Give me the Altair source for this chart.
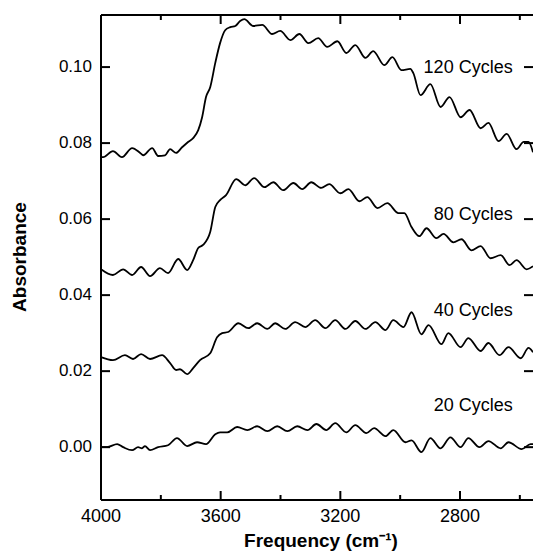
import altair as alt
import pandas as pd

# ---- data ----
f120 = [4000,3993,3960,3930,3896,3869,3859,3829,3809,3786,3769,3749,3729,3709,3692,3675,3662,3649,3635,3618,
        3602,3585,3568,3551,3535,3521,3491,3461,3428,3401,3367,3337,3307,3274,3244,3210,3180,3150,3116,3090,
        3053,3026,2996,2966,2956,2932,2899,2865,2835,2798,2768,2731,2705,2671,2644,2611,2587,2571,2556]
a120 = [0.0764,0.0763,0.0779,0.0763,0.0787,0.0774,0.0768,0.0787,0.0766,0.0768,0.0784,0.0774,0.0789,0.0803,0.0813,
        0.0834,0.0868,0.0921,0.0947,0.1011,0.1063,0.1097,0.1105,0.1108,0.1121,0.1126,0.1108,0.1111,0.1087,0.1095,
        0.1071,0.1087,0.1063,0.1076,0.1053,0.1068,0.1037,0.1058,0.1024,0.1042,0.1005,0.1026,0.0992,0.0995,0.0984,
        0.0926,0.0955,0.0895,0.0921,0.0868,0.0887,0.0839,0.0853,0.0805,0.0824,0.0784,0.0803,0.0803,0.0776]

f80 = [4000,3960,3926,3896,3866,3836,3803,3776,3742,3712,3692,3675,3659,3635,3618,3602,3582,3548,3518,3488,
       3454,3424,3391,3357,3327,3297,3264,3237,3200,3173,3136,3110,3076,3043,3006,2986,2962,2936,2912,2879,
       2855,2822,2795,2762,2731,2698,2664,2634,2611,2577,2556]
a80 = [0.0468,0.0453,0.0468,0.0453,0.0474,0.0450,0.0471,0.0458,0.0495,0.0466,0.0492,0.0524,0.0532,0.0566,0.0632,
       0.0650,0.0663,0.0705,0.0689,0.0708,0.0684,0.0697,0.0676,0.0695,0.0679,0.0697,0.0682,0.0692,0.0668,0.0679,
       0.0647,0.0658,0.0629,0.0642,0.0616,0.0616,0.0579,0.0555,0.0576,0.0550,0.0561,0.0539,0.0547,0.0518,0.0529,
       0.0497,0.0505,0.0479,0.0492,0.0468,0.0476]

f40 = [4000,3960,3920,3893,3866,3836,3796,3769,3749,3736,3712,3692,3669,3635,3612,3595,3575,3541,3508,3478,
       3444,3418,3384,3351,3317,3284,3250,3217,3183,3150,3116,3083,3049,3023,2989,2962,2929,2905,2862,2839,
       2798,2772,2731,2705,2668,2638,2597,2571,2556]
a40 = [0.0237,0.0229,0.0242,0.0232,0.0245,0.0232,0.0242,0.0221,0.0203,0.0205,0.0192,0.0208,0.0229,0.0247,0.0289,
       0.0300,0.0303,0.0326,0.0313,0.0326,0.0311,0.0326,0.0311,0.0329,0.0316,0.0334,0.0313,0.0334,0.0311,0.0332,
       0.0311,0.0329,0.0308,0.0334,0.0316,0.0355,0.0297,0.0321,0.0271,0.0300,0.0263,0.0287,0.0253,0.0274,0.0242,
       0.0263,0.0234,0.0261,0.0250]

f20 = [4000,3980,3946,3926,3896,3876,3863,3853,3836,3809,3776,3746,3712,3679,3649,3618,3602,3578,3545,3511,
       3478,3444,3411,3377,3344,3310,3280,3247,3217,3180,3150,3113,3087,3049,3023,2982,2962,2929,2899,2865,
       2832,2798,2772,2735,2705,2664,2638,2594,2564,2556]
a20 = [0.0000,0.0000,0.0008,0.0000,-0.0008,0.0000,-0.0003,0.0003,-0.0008,0.0000,0.0005,0.0024,0.0003,0.0013,0.0008,
       0.0034,0.0039,0.0039,0.0053,0.0045,0.0055,0.0042,0.0055,0.0042,0.0055,0.0045,0.0061,0.0045,0.0063,0.0039,
       0.0058,0.0037,0.0050,0.0029,0.0045,0.0013,0.0018,-0.0013,0.0024,-0.0003,0.0026,0.0000,0.0024,0.0000,0.0016,
       -0.0003,0.0013,-0.0005,0.0008,0.0008]

label_text = ["120 Cycles", "80 Cycles", "40 Cycles", "20 Cycles"]
label_y = [0.0998, 0.0611, 0.0358, 0.0107]
label_x = [2624, 2624, 2624, 2624]

x_major = [4000, 3600, 3200, 2800]
x_minor = [3800, 3400, 3000, 2600]
y_ticks = [0.0, 0.02, 0.04, 0.06, 0.08, 0.10]
x_domain = [2556, 4000]
y_domain = [-0.0139, 0.1137]
x_title = "Frequency (cm⁻¹)"
y_title = "Absorbance"

rows = []
for name, fs, ab in [("120", f120, a120), ("80", f80, a80), ("40", f40, a40), ("20", f20, a20)]:
    assert len(fs) == len(ab), name
    for f, a in zip(fs, ab):
        rows.append({"freq": f, "absb": a, "series": name})
df = pd.DataFrame(rows)
labels_df = pd.DataFrame({"freq": label_x, "absb": label_y, "text": label_text})

# tick tables (same construction as the version whose ticks rendered)
xmaj_df = pd.DataFrame({"v": x_major})
xmin_df = pd.DataFrame({"v": x_minor})
y_df = pd.DataFrame({"v": y_ticks})
# separate tables for the tick labels
xlab_df = pd.DataFrame({"xpos": x_major, "lab": [f"{v:d}" for v in x_major]})
ylab_df = pd.DataFrame({"ypos": y_ticks, "lab": [f"{v:.2f}" for v in y_ticks]})
title_df = pd.DataFrame({"t": [x_title]})
ytitle_df = pd.DataFrame({"t": [y_title]})

W, H = 432, 485
FONT = "Liberation Sans"
MAJ, MIN = 9, 5
xs = alt.Scale(domain=x_domain, reverse=True, nice=False, zero=False)
ys = alt.Scale(domain=y_domain, nice=False, zero=False)

lines = alt.Chart(df).mark_line(color="black", strokeWidth=1.8, interpolate="monotone").encode(
    x=alt.X("freq:Q", scale=xs, axis=None),
    y=alt.Y("absb:Q", scale=ys, axis=None),
    detail="series:N",
)


def xticks(d, y0, y1):
    return alt.Chart(d).mark_rule(color="black", strokeWidth=2).encode(
        x=alt.X("v:Q", scale=xs, axis=None), y=alt.value(y0), y2=alt.value(y1))


def yticks(x0, x1):
    return alt.Chart(y_df).mark_rule(color="black", strokeWidth=2).encode(
        y=alt.Y("v:Q", scale=ys, axis=None), x=alt.value(x0), x2=alt.value(x1))


top_border = alt.Chart(xmaj_df).mark_rule(color="black", strokeWidth=2).encode(
    x=alt.value(0), x2=alt.value(W), y=alt.value(0))
bottom_border = alt.Chart(xmaj_df).mark_rule(color="black", strokeWidth=2).encode(
    x=alt.value(0), x2=alt.value(W), y=alt.value(H))
left_border = alt.Chart(xmaj_df).mark_rule(color="black", strokeWidth=2).encode(
    x=alt.value(0), y=alt.value(0), y2=alt.value(H))

ticks = [
    xticks(xmaj_df, H, H - MAJ), xticks(xmin_df, H, H - MIN),
    xticks(xmaj_df, 0, MAJ), xticks(xmin_df, 0, MIN),
    yticks(0, MAJ), yticks(W - MAJ, W),
]

x_labels = alt.Chart(xlab_df).mark_text(align="center", baseline="top", fontSize=18, font=FONT,
                                        color="black").encode(
    x=alt.X("xpos:Q", scale=xs, axis=None), y=alt.value(H + 8), text="lab:N")
y_labels = alt.Chart(ylab_df).mark_text(align="right", baseline="middle", fontSize=17, font=FONT,
                                        color="black").encode(
    y=alt.Y("ypos:Q", scale=ys, axis=None), x=alt.value(-9), text="lab:N")

x_title_mark = alt.Chart(title_df).mark_text(align="center", baseline="alphabetic", fontSize=19, font=FONT,
                                             fontWeight="bold", color="black").encode(
    x=alt.value(220), y=alt.value(H + 47), text="t:N")
y_title_mark = alt.Chart(ytitle_df).mark_text(align="center", baseline="middle", fontSize=19, font=FONT,
                                              fontWeight="bold", color="black", angle=270).encode(
    x=alt.value(-81), y=alt.value(242), text="t:N")

txt = alt.Chart(labels_df).mark_text(align="right", baseline="middle", fontSize=18, font=FONT,
                                     color="black").encode(
    x=alt.X("freq:Q", scale=xs, axis=None),
    y=alt.Y("absb:Q", scale=ys, axis=None),
    text="text:N",
)

chart = alt.layer(
    lines, top_border, bottom_border, left_border, *ticks,
    x_labels, y_labels, x_title_mark, y_title_mark, txt,
).properties(
    width=W, height=H,
    padding={"left": 101, "top": 15, "right": 0, "bottom": 55},
    autosize=alt.AutoSizeParams(type="none"),
    background="white",
).configure_view(stroke=None)

chart.save("out.html", embed_options={"renderer": "svg", "actions": False})
